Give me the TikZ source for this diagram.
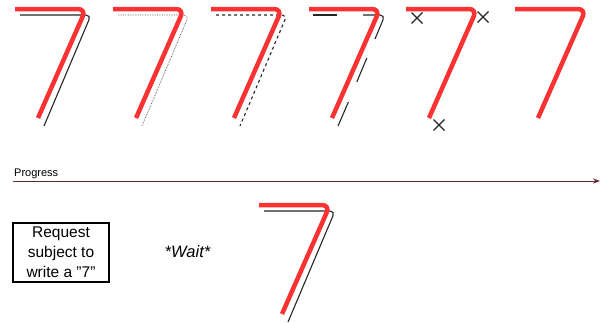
\documentclass[tikz,border=0pt]{standalone}
\usepackage{fontspec}
\setmainfont{Liberation Sans}
\usetikzlibrary{arrows.meta}
\definecolor{redc}{RGB}{250,50,50}
\definecolor{progc}{RGB}{95,45,45}
\tikzset{
  redseven/.style={draw=redc, line width=4.5pt, rounded corners=8pt},
  blackseven/.style={draw=black!85, line width=1.1pt, rounded corners=5pt},
  xmark/.style={draw=black!85, line width=1.1pt},
  progline/.style={draw=progc, line width=1pt, -{Stealth[length=7pt,width=5pt]}},
  reqbox/.style={draw, line width=1.2pt, minimum width=96pt, minimum height=59pt, inner sep=0pt, align=center, font=\fontsize{15.5}{20}\selectfont}
}
\newcommand{\sevenred}[2]{\draw[redseven, shift={(#1,#2)}] (15,9) -- (86,9) -- (38,118);}
\newcommand{\xat}[2]{\draw[xmark] (#1-5.5,#2-5.5) -- (#1+5.5,#2+5.5) (#1-5.5,#2+5.5) -- (#1+5.5,#2-5.5);}
\begin{document}
\begin{tikzpicture}[x=1pt,y=-1pt]
\useasboundingbox (0,0) rectangle (600,322);
% 1: solid
\draw[blackseven] (20,15) -- (91,15) -- (44,126);
\sevenred{0}{0}
% 2: dotted
\draw[blackseven, draw=black!70, line width=0.7pt, densely dotted, shift={(98,0)}] (20,15) -- (91,15) -- (44,126);
\sevenred{98}{0}
% 3: dashed
\draw[blackseven, dash pattern=on 3pt off 3pt, shift={(196,0)}] (20,15) -- (91,15) -- (44,126);
\sevenred{196}{0}
% 4: broken
\begin{scope}[shift={(294,0)}]
\draw[blackseven] (19,15) -- (43,15);
\draw[blackseven] (69,15) -- (91,15) -- (81,39);
\draw[blackseven] (72.8,58) -- (62.8,82);
\draw[blackseven] (54.4,102) -- (44,126);
\end{scope}
\sevenred{294}{0}
% 5: crosses
\sevenred{391}{0}
\xat{417}{18}
\xat{483}{17}
\xat{439}{125}
% 6: red only
\sevenred{500}{0}
% progress
\node[anchor=base west, inner sep=0pt, font=\fontsize{11}{13}\selectfont] (prog) at (14,176) {Progress};
\coordinate (pa) at (13,181);
\coordinate (pb) at (600,181);
\draw[progline] (pa) -- (pb);
% request box
\node[reqbox] (req) at (61,252.5) {Request\\subject to\\write a \textquotedblright7\textquotedblright};
\node[font=\fontsize{16.5}{20}\selectfont\itshape] (wait) at (187.5,252) {*Wait*};
% bottom seven
\draw[blackseven, shift={(244,196)}] (20,15) -- (91,15) -- (44,126);
\sevenred{244}{196}
\end{tikzpicture}
\end{document}
